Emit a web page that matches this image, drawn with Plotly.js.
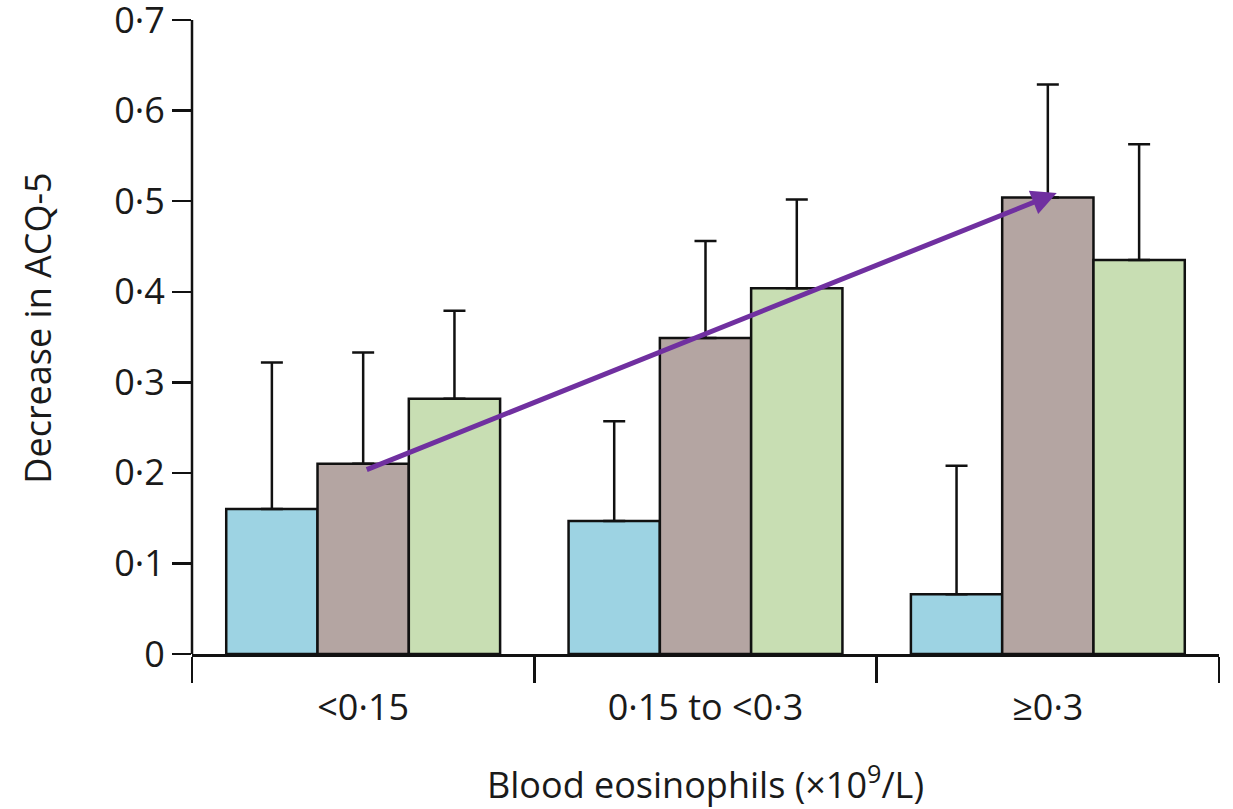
<!DOCTYPE html>
<html>
<head>
<meta charset="utf-8">
<script src="https://cdn.plot.ly/plotly-3.0.1.min.js"></script>
<style>
  html, body { margin: 0; padding: 0; background: #fff; }
  #chart { width: 1233px; height: 809px; }
</style>
</head>
<body>
<div id="chart"></div>
<script>
// Blood eosinophil count bands
const categories = ['<0·15', '0·15 to <0·3', '≥0·3'];

// Mean decrease in ACQ-5 for each of the three groups, per band
const seriesA = [0.16, 0.147, 0.066];
const seriesB = [0.21, 0.349, 0.504];
const seriesC = [0.282, 0.404, 0.435];

// Upper end of each error bar
const upperA = [0.322, 0.257, 0.208];
const upperB = [0.333, 0.456, 0.629];
const upperC = [0.379, 0.502, 0.563];

// Y axis ticks
const yTickVals = [0, 0.1, 0.2, 0.3, 0.4, 0.5, 0.6, 0.7];
const yTickText = ['0', '0·1', '0·2', '0·3', '0·4', '0·5', '0·6', '0·7'];
const yTop = 0.7;

// Trend arrow across the middle bars: [x, y] in data units (x = category index)
const trendStart = [0.006, 0.203];
const trendEnd = [2.026, 0.509];

const FONT = 'Open Sans, Noto Sans, sans-serif';
const INK = '#1a1a1a';
const SIZE = 36;

function barTrace(values, upper, color) {
  return {
    type: 'bar',
    x: categories,
    y: values,
    marker: { color: color, line: { color: '#111', width: 2.5 } },
    error_y: {
      type: 'data',
      symmetric: false,
      array: upper.map((u, i) => u - values[i]),
      arrayminus: values.map(() => 0),
      color: '#111',
      thickness: 2.5,
      width: 11
    },
    hoverinfo: 'skip',
    showlegend: false
  };
}

const data = [
  barTrace(seriesA, upperA, '#9dd3e3'),
  barTrace(seriesB, upperB, '#b4a5a2'),
  barTrace(seriesC, upperC, '#c8deb3')
];

const layout = {
  width: 1233,
  height: 809,
  margin: { l: 192, r: 14, t: 2, b: 155 },
  paper_bgcolor: '#fff',
  plot_bgcolor: '#fff',
  barmode: 'group',
  bargap: 0.2,
  bargroupgap: 0,
  font: { family: FONT, color: INK, size: SIZE },
  xaxis: {
    type: 'category',
    tickson: 'boundaries',
    ticks: 'outside',
    ticklen: 26,
    tickwidth: 2.5,
    tickcolor: '#111',
    ticklabelstandoff: 20,
    showline: true,
    linecolor: '#111',
    linewidth: 2.5,
    showgrid: false,
    tickfont: { family: FONT, size: SIZE, color: INK },
    title: {
      text: 'Blood eosinophils (×10<sup>9</sup>/L)',
      font: { family: FONT, size: SIZE, color: INK },
      standoff: 43
    }
  },
  yaxis: {
    range: [0, 0.72],
    tickvals: yTickVals,
    ticktext: yTickText,
    ticks: 'outside',
    ticklen: 19,
    tickwidth: 2.5,
    tickcolor: '#111',
    ticklabeloverflow: 'allow',
    showline: false,
    showgrid: false,
    zeroline: false,
    tickfont: { family: FONT, size: SIZE, color: INK },
    title: {
      text: 'Decrease in ACQ-5',
      font: { family: FONT, size: SIZE, color: INK },
      standoff: 51
    }
  },
  shapes: [{
    // y axis line, stopping at the top tick
    type: 'line',
    xref: 'paper', yref: 'y',
    x0: 0, x1: 0, y0: 0, y1: yTop,
    line: { color: '#111', width: 2.5 },
    layer: 'above'
  }],
  annotations: [{
    xref: 'x', yref: 'y', axref: 'x', ayref: 'y',
    x: trendEnd[0], y: trendEnd[1],
    ax: trendStart[0], ay: trendStart[1],
    text: '',
    showarrow: true,
    arrowhead: 2,
    arrowsize: 1,
    arrowwidth: 5,
    arrowcolor: '#7030a0'
  }]
};

Plotly.newPlot('chart', data, layout, { displayModeBar: false, staticPlot: true });
</script>
</body>
</html>
